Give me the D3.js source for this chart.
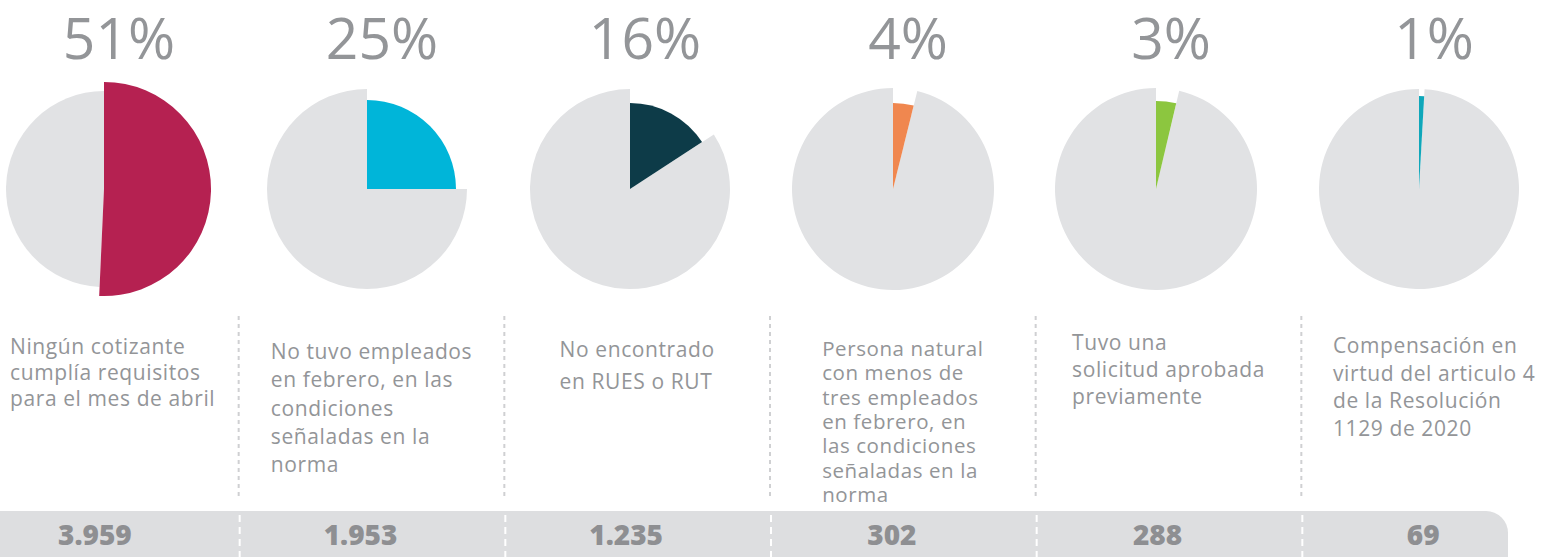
<!DOCTYPE html>
<html>
<head>
<meta charset="utf-8">
<script src="https://cdn.jsdelivr.net/npm/d3@7"></script>
<style>
  html, body { margin: 0; padding: 0; background: #fff; overflow: hidden; }
  svg { display: block; font-family: "Open Sans", sans-serif; }
</style>
</head>
<body>
<script>
// data
const categories = ["cotizante", "empleados", "rues", "natural", "aprobada", "compensacion"];
const counts = [3959, 1953, 1235, 302, 288, 69];
const pctLabels = ["51%", "25%", "16%", "4%", "3%", "1%"];
const labelLines = [
  ["Ningún cotizante", "cumplía requisitos", "para el mes de abril"],
  ["No tuvo empleados", "en febrero, en las", "condiciones", "señaladas en la", "norma"],
  ["No encontrado", "en RUES o RUT"],
  ["Persona natural", "con menos de", "tres empleados", "en febrero, en", "las condiciones", "señaladas en la", "norma"],
  ["Tuvo una", "solicitud aprobada", "previamente"],
  ["Compensación en", "virtud del articulo 4", "de la Resolución", "1129 de 2020"]
];
const sliceColors = ["#b52151", "#00b5d9", "#0d3b48", "#f0874f", "#8cc63f", "#0fa7ba"];

// layout
const w = 1544, h = 557;
const pieY = 189;
const grayR = [98, 100, 100, 101, 101, 100];
const sliceR = [107, 89, 86, 86, 88, 93];
const firstBase = [354, 359, 357, 356, 350, 353];
const lineGap = [26, 28.3, 32, 24.3, 27, 27.7];
const labSize = [21, 21, 21, 20.5, 21, 21];
const grey = "#939598";

const total = d3.sum(counts);
const fmt = d3.formatLocale({decimal: ",", thousands: ".", grouping: [3], currency: ["$", ""]}).format(",");

const pieX = d3.scalePoint().domain(categories).range([104, 1419]);
const col = d3.scaleBand().domain(categories).range([-27, 1567]);

const svg = d3.select("body")
  .append("svg")
  .attr("width", w)
  .attr("height", h);

const pie = d3.pie().sort(null).value(d => d);

const pies = svg.selectAll("g.pie")
  .data(categories)
  .enter()
  .append("g")
  .attr("class", "pie")
  .attr("transform", d => "translate(" + pieX(d) + "," + pieY + ")");

pies.each(function(d, i) {
  const arcs = pie([counts[i], total - counts[i]]);
  const g = d3.select(this);
  g.append("path")
    .attr("d", d3.arc().innerRadius(0).outerRadius(grayR[i])(arcs[1]))
    .attr("fill", "#e1e2e4");
  g.append("path")
    .attr("d", d3.arc().innerRadius(0).outerRadius(sliceR[i])(arcs[0]))
    .attr("fill", sliceColors[i]);
});

// big percentages
svg.selectAll("text.pct")
  .data(categories)
  .enter()
  .append("text")
  .attr("class", "pct")
  .attr("x", d => pieX(d) + 15)
  .attr("y", 59)
  .attr("text-anchor", "middle")
  .style("font-size", "57px")
  .style("font-weight", 400)
  .style("fill", grey)
  .text((d, i) => pctLabels[i]);

// dotted separators above the bar
const seps = categories.slice(1);
svg.selectAll("line.sep")
  .data(seps)
  .enter()
  .append("line")
  .attr("class", "sep")
  .attr("x1", d => col(d)).attr("x2", d => col(d))
  .attr("y1", 316).attr("y2", 500)
  .attr("stroke", "#cfd0d2")
  .attr("stroke-width", 2)
  .attr("stroke-dasharray", "4,4");

// description texts, block centred in its column
svg.selectAll("text.lab")
  .data(categories)
  .enter()
  .append("text")
  .attr("class", "lab")
  .style("font-size", (d, i) => labSize[i] + "px")
  .style("letter-spacing", "0.6px")
  .style("fill", grey)
  .each(function(d, i) {
    const t = d3.select(this);
    labelLines[i].forEach((s, k) => {
      t.append("tspan")
        .attr("x", 0)
        .attr("y", firstBase[i] + k * lineGap[i])
        .text(s);
    });
    const bw = this.getBBox().width;
    const x0 = Math.max(10, col(d) + col.bandwidth() / 2 - bw / 2);
    t.selectAll("tspan").attr("x", x0);
  });

// bottom bar
svg.append("rect")
  .attr("x", -40)
  .attr("y", 511)
  .attr("width", 1508 + 40)
  .attr("height", 90)
  .attr("rx", 22)
  .attr("fill", "#dddee0");

svg.selectAll("line.wsep")
  .data(seps)
  .enter()
  .append("line")
  .attr("class", "wsep")
  .attr("x1", d => col(d) + 1).attr("x2", d => col(d) + 1)
  .attr("y1", 515).attr("y2", h)
  .attr("stroke", "#fff")
  .attr("stroke-width", 2)
  .attr("stroke-dasharray", "7,5");

svg.selectAll("text.num")
  .data(categories)
  .enter()
  .append("text")
  .attr("class", "num")
  .attr("x", d => col(d) + col.bandwidth() / 2 - 11)
  .attr("y", 545)
  .attr("text-anchor", "middle")
  .style("font-size", "28px")
  .style("font-weight", 800)
  .style("fill", "#8e8f92")
  .text((d, i) => fmt(counts[i]));
</script>
</body>
</html>
